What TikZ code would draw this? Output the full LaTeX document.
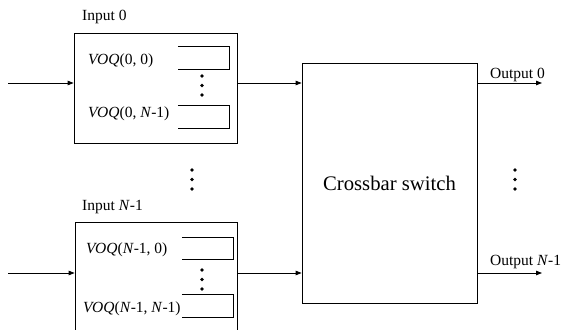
\documentclass[tikz,border=0pt]{standalone}
\usepackage{fontspec}
\setmainfont{Liberation Serif}
\usetikzlibrary{arrows.meta}
\begin{document}
\begin{tikzpicture}[x=1pt,y=-1pt,
  box/.style={draw,line width=0.8pt,inner sep=0pt},
  queue/.style={inner sep=0pt,minimum width=51pt,minimum height=22pt},
  qline/.style={line width=0.8pt},
  arr/.style={line width=0.8pt,-{Triangle[length=6pt,width=4.5pt]}},
  lbl/.style={anchor=base west,inner sep=0pt,font=\fontsize{15.5}{18}\selectfont},
  dot/.style={circle,fill,inner sep=0pt,minimum size=3.6pt}]
\useasboundingbox (0,0) rectangle (561,329);
\clip (0,0) rectangle (561,329);
% boxes
\node[box,minimum width=163pt,minimum height=110pt] (in0) at (155.5,88) {};
\node[box,minimum width=162pt,minimum height=120pt] (inN) at (156,282) {};
\node[box,minimum width=175pt,minimum height=240pt,font=\fontsize{20.7}{24}\selectfont] (xb) at (389.5,183) {Crossbar switch};
% queues
\node[queue] (q00) at (203.5,58) {};
\node[queue] (q01) at (203.5,117) {};
\node[queue] (qN0) at (207.5,248.5) {};
\node[queue] (qNN) at (207.5,306) {};
\foreach \q in {q00,q01,qN0,qNN}
  \draw[qline] (\q.north west) -| (\q.south east) -- (\q.south west);
% labels
\node[lbl] (l0) at (82,20.5) {Input 0};
\node[lbl] (lN) at (82,210) {Input \textit{N}-1};
\node[lbl] (v00) at (88,64) {\textit{VOQ}(0, 0)};
\node[lbl] (v01) at (88,117) {\textit{VOQ}(0, \textit{N}-1)};
\node[lbl] (vN0) at (86,253) {\textit{VOQ}(\textit{N}-1, 0)};
\node[lbl] (vNN) at (83,312) {\textit{VOQ}(\textit{N}-1, \textit{N}-1)};
\node[lbl] (o0) at (490,78) {Output 0};
\node[lbl] (oN) at (490,265) {Output \textit{N}-1};
% dots
\foreach \x/\y [count=\i] in {202/76,202/85.5,202/95,202/270,202/279.5,202/289,192/170,192/179.5,192/189,515/170,515/179.5,515/189}
  \node[dot] (d\i) at (\x,\y) {};
% arrows
\coordinate (a0) at (8,83);
\coordinate (aN) at (8,273);
\coordinate (b0) at (542,83);
\coordinate (bN) at (542,273);
\draw[arr] (a0) -- (a0 -| in0.west);
\draw[arr] (aN) -- (aN -| inN.west);
\draw[arr] (a0 -| in0.east) -- (a0 -| xb.west);
\draw[arr] (aN -| inN.east) -- (aN -| xb.west);
\draw[arr] (b0 -| xb.east) -- (b0);
\draw[arr] (bN -| xb.east) -- (bN);
\end{tikzpicture}
\end{document}
